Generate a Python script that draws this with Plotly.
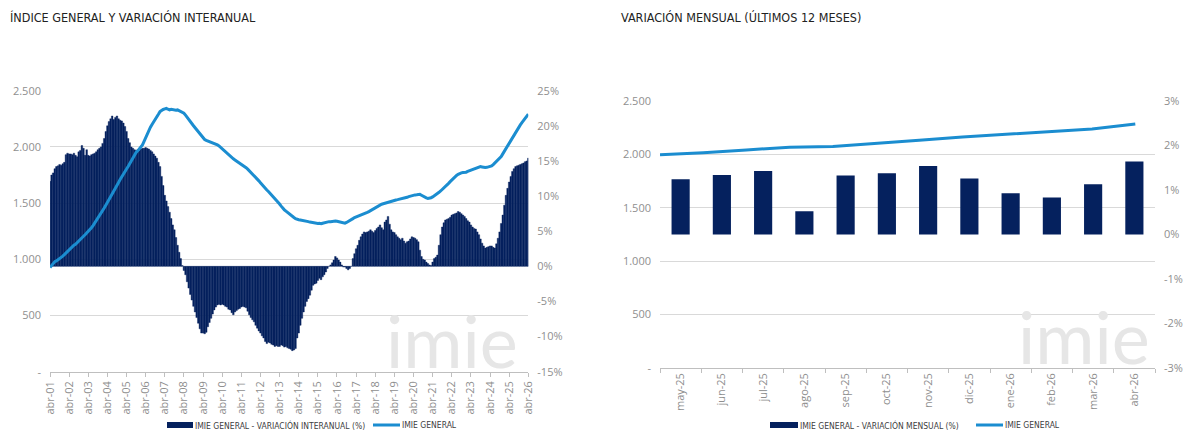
"""
IMIE General: índice y variación interanual + variación mensual (últimos 12 meses)
Dos paneles lado a lado, barras en eje % (derecha) y línea de índice (izquierda).
"""

import plotly.graph_objects as go

# ── Datos ────────────────────────────────────────────────────────────────────

# Panel izquierdo: serie mensual abr-01 … abr-26 (301 meses)
TICKS_ANUALES = [
    "abr-01", "abr-02", "abr-03", "abr-04", "abr-05", "abr-06", "abr-07",
    "abr-08", "abr-09", "abr-10", "abr-11", "abr-12", "abr-13", "abr-14",
    "abr-15", "abr-16", "abr-17", "abr-18", "abr-19", "abr-20", "abr-21",
    "abr-22", "abr-23", "abr-24", "abr-25", "abr-26",
]

# variación interanual (%), una fila por año (abr → mar)
VAR_INTERANUAL = [
    12.1, 13.0, 13.3, 13.9, 14.2, 14.3, 14.5, 14.4, 14.6, 14.8, 15.9, 16.1,
    16.0, 16.0, 15.9, 16.1, 15.8, 15.6, 16.3, 16.5, 17.2, 16.8, 15.8, 16.6,
    15.8, 15.7, 15.9, 16.0, 16.1, 16.3, 16.6, 16.8, 17.0, 17.5, 18.2, 19.2,
    20.0, 20.6, 21.0, 21.4, 20.9, 21.2, 21.4, 21.0, 20.8, 20.7, 20.4, 19.9,
    19.2, 18.2, 17.6, 17.0, 16.8, 16.6, 16.5, 16.6, 16.5, 16.7, 16.8, 16.8,
    16.9, 16.8, 16.7, 16.5, 16.3, 16.0, 15.7, 15.4, 14.8, 14.2, 12.8, 11.5,
    10.1, 9.3, 8.5, 7.7, 6.8, 5.9, 5.2, 4.1, 3.0, 2.0, 1.1, 0.1,
    -0.6, -1.2, -2.2, -3.1, -4.0, -4.8, -5.7, -6.5, -7.3, -8.1, -8.9, -9.5,
    -9.5, -9.6, -9.4, -8.6, -8.0, -7.4, -6.8, -6.2, -5.8, -5.5, -5.4, -5.5,
    -5.4, -5.5, -5.7, -5.8, -6.1, -6.2, -6.6, -6.9, -6.5, -6.3, -6.1, -6.0,
    -5.8, -5.7, -5.8, -5.9, -6.4, -6.9, -7.3, -7.6, -7.9, -8.4, -8.8, -9.2,
    -9.5, -9.9, -10.2, -10.7, -11.0, -10.8, -10.9, -11.1, -11.2, -11.4, -11.3, -11.4,
    -11.4, -11.2, -11.3, -11.5, -11.4, -11.6, -11.7, -11.8, -12.0, -11.9, -11.7, -10.2,
    -9.5, -8.4, -7.4, -6.5, -5.7, -5.0, -4.6, -4.1, -3.4, -2.7, -2.5, -2.4,
    -2.0, -1.7, -1.9, -1.5, -1.2, -0.8, -0.3, 0.0, 0.2, 0.5, 0.9, 1.4,
    1.2, 0.9, 0.6, 0.2, -0.1, -0.1, -0.3, -0.5, -0.3, 0.0, 1.1, 1.8,
    2.5, 3.0, 3.7, 4.2, 4.6, 4.9, 4.8, 4.9, 5.0, 5.2, 5.0, 4.8,
    5.1, 5.4, 5.6, 5.9, 5.5, 5.2, 6.3, 6.6, 7.1, 6.0, 5.2, 4.9,
    4.8, 4.5, 4.2, 4.0, 3.8, 4.0, 3.6, 3.3, 3.5, 3.6, 3.9, 4.2,
    4.1, 4.0, 3.8, 3.5, 2.3, 1.4, 1.0, 0.9, 0.6, 0.4, 0.2, 0.1,
    0.6, 1.1, 1.3, 1.6, 3.0, 4.5, 5.6, 6.2, 6.6, 6.7, 6.8, 7.0,
    7.3, 7.4, 7.5, 7.6, 7.8, 7.7, 7.5, 7.3, 7.1, 6.8, 6.5, 6.3,
    5.9, 5.6, 5.4, 5.3, 4.9, 4.5, 3.9, 3.3, 2.9, 2.6, 2.7, 2.8,
    2.9, 2.9, 2.7, 2.6, 3.2, 4.0, 4.9, 6.1, 7.3, 8.7, 10.1, 11.1,
    12.0, 12.8, 13.5, 13.9, 14.2, 14.3, 14.4, 14.5, 14.6, 14.7, 14.9, 15.0,
    15.4,
]

# índice general, misma rejilla mensual
INDICE_GENERAL = [
    926, 945, 962, 979, 986, 995, 1005, 1015, 1028, 1041, 1055, 1068,
    1084, 1100, 1117, 1125, 1134, 1150, 1163, 1178, 1193, 1205, 1218, 1232,
    1246, 1262, 1281, 1300, 1321, 1342, 1365, 1388, 1410, 1432, 1456, 1481,
    1505, 1528, 1554, 1580, 1606, 1632, 1658, 1684, 1710, 1736, 1760, 1782,
    1803, 1825, 1851, 1877, 1903, 1929, 1950, 1965, 1982, 2000, 2018, 2050,
    2085, 2118, 2151, 2175, 2200, 2220, 2240, 2265, 2290, 2314, 2325, 2333,
    2338, 2342, 2335, 2329, 2334, 2330, 2331, 2326, 2329, 2322, 2316, 2308,
    2300, 2283, 2262, 2244, 2225, 2206, 2188, 2170, 2151, 2133, 2114, 2095,
    2077, 2066, 2058, 2052, 2047, 2040, 2036, 2031, 2028, 2018, 2008, 1995,
    1978, 1964, 1952, 1940, 1927, 1914, 1904, 1894, 1884, 1875, 1866, 1857,
    1848, 1840, 1827, 1815, 1802, 1788, 1775, 1760, 1745, 1730, 1715, 1698,
    1681, 1663, 1646, 1631, 1617, 1603, 1588, 1573, 1558, 1543, 1528, 1510,
    1492, 1473, 1454, 1440, 1428, 1415, 1405, 1395, 1383, 1372, 1362, 1355,
    1352, 1350, 1348, 1345, 1342, 1340, 1335, 1331, 1328, 1325, 1321, 1320,
    1318, 1320, 1316, 1321, 1325, 1328, 1332, 1335, 1334, 1337, 1339, 1341,
    1338, 1336, 1332, 1330, 1325, 1322, 1328, 1335, 1342, 1352, 1362, 1371,
    1376, 1382, 1386, 1390, 1395, 1402, 1410, 1417, 1424, 1433, 1442, 1451,
    1460, 1468, 1475, 1483, 1490, 1494, 1499, 1503, 1508, 1512, 1516, 1520,
    1524, 1528, 1531, 1534, 1536, 1537, 1542, 1547, 1552, 1558, 1563, 1568,
    1571, 1573, 1574, 1576, 1578, 1570, 1560, 1549, 1546, 1542, 1543, 1548,
    1555, 1564, 1573, 1584, 1596, 1608, 1620, 1633, 1646, 1661, 1676, 1691,
    1706, 1721, 1736, 1746, 1756, 1766, 1769, 1772, 1771, 1775, 1782, 1788,
    1795, 1800, 1805, 1810, 1815, 1820, 1825, 1822, 1818, 1816, 1818, 1820,
    1822, 1830, 1842, 1855, 1869, 1884, 1899, 1914, 1938, 1962, 1988, 2012,
    2037, 2062, 2087, 2112, 2136, 2156, 2176, 2196, 2216, 2236, 2255, 2273,
    2291,
]

# Panel derecho: últimos 12 meses
MESES_12 = ["may-25", "jun-25", "jul-25", "ago-25", "sep-25", "oct-25",
            "nov-25", "dic-25", "ene-26", "feb-26", "mar-26", "abr-26"]
VAR_MENSUAL = [1.24, 1.34, 1.43, 0.52, 1.33, 1.38, 1.54, 1.26, 0.93, 0.83, 1.13, 1.64]
INDICE_12 = [1997, 2016, 2043, 2068, 2075, 2102, 2134, 2165, 2189, 2211, 2239, 2286]

# ejes
VALORES_INDICE = [0, 500, 1000, 1500, 2000, 2500]
ETIQUETAS_INDICE = ["-", "500", "1.000", "1.500", "2.000", "2.500"]
VALORES_PCT_IZQ = [-15, -10, -5, 0, 5, 10, 15, 20, 25]
ETIQUETAS_PCT_IZQ = ["-15%", "-10%", "-5%", "0%", "5%", "10%", "15%", "20%", "25%"]
VALORES_PCT_DER = [-3, -2, -1, 0, 1, 2, 3]
ETIQUETAS_PCT_DER = ["-3%", "-2%", "-1%", "0%", "1%", "2%", "3%"]

# ── Estilo ───────────────────────────────────────────────────────────────────

W, H = 1200, 448
AZUL_OSCURO = "#05215e"
AZUL_LINEA = "#1b8dd0"
GRIS_TICK = "#8f8f8f"
GRIS_GRID = "#d9d9d9"
GRIS_EJE = "#bfbfbf"
TITULO = "#222222"
FUENTE_COND = ("Liberation Sans Narrow, Arial Narrow, DejaVu Sans Condensed, "
               "Noto Sans, sans-serif")
FUENTE_TICK = "Open Sans, Lato, sans-serif"


def px(x):
    return x / W


def py(y):
    return 1 - y / H


# ── Figura ───────────────────────────────────────────────────────────────────

fig = go.Figure()

meses_idx = list(range(len(VAR_INTERANUAL)))

fig.add_trace(go.Bar(
    x=meses_idx, y=VAR_INTERANUAL, width=1,
    marker=dict(color=AZUL_OSCURO, line=dict(color=AZUL_OSCURO, width=0.4)),
    xaxis="x", yaxis="y", showlegend=False,
))
fig.add_trace(go.Scatter(
    x=meses_idx, y=INDICE_GENERAL, mode="lines",
    line=dict(color=AZUL_LINEA, width=3),
    xaxis="x", yaxis="y2", showlegend=False,
))

fig.add_trace(go.Bar(
    x=MESES_12, y=VAR_MENSUAL, width=0.44,
    marker=dict(color=AZUL_OSCURO, line_width=0),
    xaxis="x2", yaxis="y3", showlegend=False,
))
fig.add_trace(go.Scatter(
    x=list(range(len(INDICE_12))), y=INDICE_12, mode="lines",
    line=dict(color=AZUL_LINEA, width=3),
    xaxis="x3", yaxis="y4", showlegend=False,
))

tick_font = dict(family=FUENTE_TICK, size=11, color=GRIS_TICK)

eje_indice = dict(
    range=[0, 2500], tickmode="array",
    tickvals=VALORES_INDICE, ticktext=ETIQUETAS_INDICE,
    showgrid=True, gridcolor=GRIS_GRID, gridwidth=1,
    zeroline=False, showline=False, ticks="",
    tickfont=tick_font, ticklabelstandoff=8, side="left", automargin=False,
)

fig.update_layout(
    width=W, height=H, autosize=False,
    margin=dict(l=0, r=0, t=0, b=0, pad=0),
    paper_bgcolor="white", plot_bgcolor="white",
    showlegend=False,
    # panel izquierdo
    xaxis=dict(
        domain=[px(50), px(528.3)], anchor="y",
        range=[0, len(VAR_INTERANUAL) - 1],
        tickmode="array", tickvals=meses_idx[::12], ticktext=TICKS_ANUALES,
        tickangle=-90, tickfont=tick_font,
        showgrid=False, zeroline=False,
        showline=True, linecolor=GRIS_EJE, linewidth=1,
        ticks="outside", ticklen=4, tickcolor=GRIS_EJE, automargin=False,
    ),
    yaxis=dict(
        domain=[py(371.7), py(90.7)], anchor="x", side="right",
        range=[-15, 25], tickmode="array",
        tickvals=VALORES_PCT_IZQ, ticktext=ETIQUETAS_PCT_IZQ,
        showgrid=False, zeroline=False, showline=False, ticks="",
        tickfont=tick_font, ticklabelstandoff=8, automargin=False,
    ),
    yaxis2=dict(eje_indice, overlaying="y", anchor="x"),
    # panel derecho
    xaxis2=dict(
        domain=[px(660), px(1155)], anchor="y3", type="category",
        tickangle=-90, tickfont=tick_font, tickson="boundaries",
        showgrid=False, zeroline=False,
        showline=True, linecolor=GRIS_EJE, linewidth=1,
        ticks="outside", ticklen=4, tickcolor=GRIS_EJE, automargin=False,
    ),
    xaxis3=dict(
        overlaying="x2", anchor="y4", range=[0, 11.456], visible=False,
        automargin=False,
    ),
    yaxis3=dict(
        domain=[py(367.7), py(101.2)], anchor="x2", side="right",
        range=[-3, 3], tickmode="array",
        tickvals=VALORES_PCT_DER, ticktext=ETIQUETAS_PCT_DER,
        showgrid=False, zeroline=False, showline=False, ticks="",
        tickfont=tick_font, ticklabelstandoff=8, automargin=False,
    ),
    yaxis4=dict(eje_indice, overlaying="y3", anchor="x2"),
)

# títulos
for texto, x in [("ÍNDICE GENERAL Y VARIACIÓN INTERANUAL", 8),
                 ("VARIACIÓN MENSUAL (ÚLTIMOS 12 MESES)", 619)]:
    fig.add_annotation(
        text=texto, xref="paper", yref="paper", x=px(x), y=py(17),
        xanchor="left", yanchor="middle", showarrow=False,
        font=dict(family=FUENTE_COND, size=12.5, color=TITULO),
    )

# marca de agua
for xc, yc in [(452, 340), (1084, 336)]:
    fig.add_annotation(
        text="imie", xref="paper", yref="paper", x=px(xc), y=py(yc),
        xanchor="center", yanchor="middle", showarrow=False,
        font=dict(family="Lato", size=72, color="#e6e6e6"),
    )

# leyendas dibujadas a mano (rectángulo ancho + línea como en el original)
leyendas = [
    (167, 193, "IMIE GENERAL - VARIACIÓN INTERANUAL (%)", 373, 400),
    (770, 798, "IMIE GENERAL - VARIACIÓN MENSUAL (%)", 976, 1003),
]
for x0, x1, texto, l0, l1 in leyendas:
    fig.add_shape(type="rect", xref="paper", yref="paper",
                  x0=px(x0), x1=px(x1), y0=py(428), y1=py(422),
                  fillcolor=AZUL_OSCURO, line_width=0)
    fig.add_annotation(text=texto, xref="paper", yref="paper",
                       x=px(x1), y=py(425), xanchor="left", yanchor="middle",
                       showarrow=False,
                       font=dict(family=FUENTE_COND, size=8.5, color="#404040"))
    fig.add_shape(type="line", xref="paper", yref="paper",
                  x0=px(l0), x1=px(l1), y0=py(425), y1=py(425),
                  line=dict(color=AZUL_LINEA, width=3))
    fig.add_annotation(text="IMIE GENERAL", xref="paper", yref="paper",
                       x=px(l1), y=py(425), xanchor="left", yanchor="middle",
                       showarrow=False,
                       font=dict(family=FUENTE_COND, size=8.5, color="#404040"))

# la página trae el margen por defecto del <body>; se quita para que la figura
# ocupe exactamente la ventana
fig.write_html(
    "out.html",
    config={"displayModeBar": False},
    post_script="document.body.style.margin = '0';",
)
